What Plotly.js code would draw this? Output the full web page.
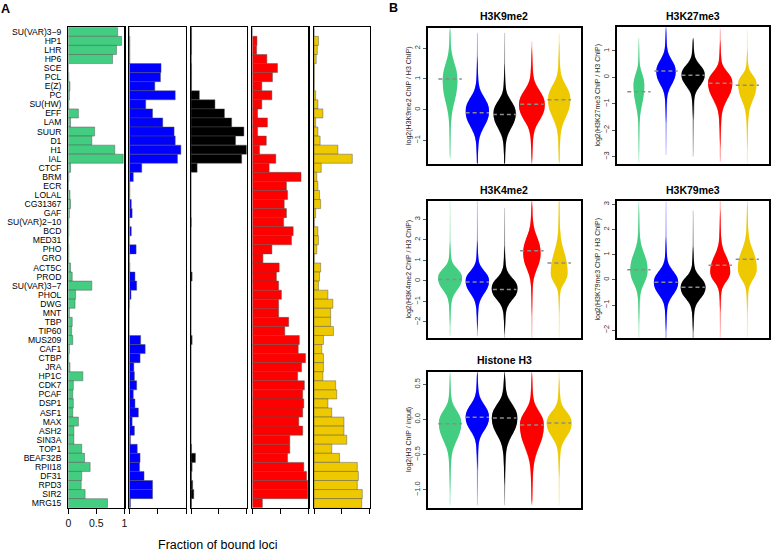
<!DOCTYPE html>
<html><head><meta charset="utf-8">
<script src="https://cdn.plot.ly/plotly-3.0.1.min.js"></script>
<style>html,body{margin:0;padding:0;background:#fff}#chart{width:771px;height:555px}</style>
</head><body><div id="chart"></div>
<script>
// ---------------- DATA ----------------
const categories = ["SU(VAR)3\u22129","HP1","LHR","HP6","SCE","PCL","E(Z)","PC","SU(HW)","EFF","LAM","SUUR","D1","H1","IAL","CTCF","BRM","ECR","LOLAL","CG31367","GAF","SU(VAR)2\u221210","BCD","MED31","PHO","GRO","ACT5C","PROD","SU(VAR)3\u22127","PHOL","DWG","MNT","TBP","TIP60","MUS209","CAF1","CTBP","JRA","HP1C","CDK7","PCAF","DSP1","ASF1","MAX","ASH2","SIN3A","TOP1","BEAF32B","RPII18","DF31","RPD3","SIR2","MRG15"];
const greenFrac = [0.88,0.95,0.86,0.79,0.0,0.01,0.03,0.02,0.01,0.18,0.04,0.47,0.42,0.83,0.98,0.04,0.01,0.005,0.03,0.04,0.02,0.01,0.01,0.005,0.01,0.01,0.04,0.07,0.42,0.13,0.12,0.02,0.07,0.06,0.08,0.02,0.01,0.03,0.26,0.09,0.08,0.09,0.08,0.18,0.10,0.10,0.24,0.29,0.39,0.24,0.23,0.30,0.70];
const blueFrac = [0,0.01,0.01,0.01,0.56,0.55,0.45,0.81,0.29,0.41,0.59,0.79,0.81,0.91,0.85,0.22,0.07,0.01,0.01,0.035,0.05,0.005,0.035,0.005,0.12,0.005,0.01,0.10,0.13,0.03,0.005,0,0,0,0.20,0.28,0.19,0.08,0.09,0.13,0.07,0.10,0.16,0.05,0.09,0.02,0.14,0.19,0.18,0.26,0.41,0.41,0.02];
const blackFrac = [0.01,0.01,0.01,0.005,0.01,0.01,0.01,0.15,0.43,0.60,0.73,0.95,0.80,1.0,0.91,0.11,0,0,0,0,0,0.005,0,0,0,0,0,0.02,0,0,0,0,0,0,0.02,0,0,0,0,0,0,0,0,0,0,0,0.01,0.08,0.02,0.01,0.03,0.05,0.01];
const redFrac = [0,0.083,0.077,0.26,0.45,0.36,0.17,0.35,0.17,0.095,0.27,0.095,0.25,0.13,0.42,0.30,0.87,0.61,0.63,0.57,0.61,0.56,0.73,0.70,0.35,0.19,0.48,0.43,0.47,0.52,0.47,0.47,0.65,0.58,0.84,0.82,0.95,0.88,0.81,0.93,0.90,0.92,0.90,0.83,0.90,0.67,0.67,0.63,0.92,0.97,0.99,0.99,0.18];
const yellowFrac = [0,0.08,0.06,0.04,0.005,0.005,0.005,0.03,0.07,0.16,0.03,0.07,0.11,0.43,0.69,0.13,0.05,0.07,0.10,0.12,0.03,0.005,0.07,0.08,0.05,0.005,0.12,0.10,0.08,0.25,0.34,0.30,0.30,0.35,0.17,0.14,0.17,0.17,0.16,0.39,0.41,0.25,0.32,0.54,0.54,0.59,0.32,0.46,0.78,0.80,0.78,0.87,0.86];
const xTickVals = [0,0.5,1];
const xTickText = ["0","0.5","1"];

const chromatinClasses = ["GREEN","BLUE","BLACK","RED","YELLOW"];
const panelTitles = ["H3K9me2","H3K27me3","H3K4me2","H3K79me3","Histone H3"];
const panelYTitles = ["log2(H3K9me2 ChIP / H3 ChIP)","log2(H3K27me3 ChIP / H3 ChIP)","log2(H3K4me2 ChIP / H3 ChIP)","log2(H3K79me3 ChIP / H3 ChIP)","log2(H3 ChIP / input)"];
// per panel, per chromatin class (GREEN, BLUE, BLACK, RED, YELLOW)
const medianVals = [[1.0,-0.1,-0.16,0.18,0.32],[-0.54,0.24,0.08,-0.22,-0.3],[0.07,-0.05,-0.42,1.47,0.88],[0.4,-0.1,-0.3,0.58,0.82],[-0.06,0.03,0.02,-0.08,-0.05]];
const modeVals = [[0.95,-0.05,-0.12,0.16,0.33],[-0.3,0.22,0.1,-0.2,-0.25],[0.15,0.0,-0.37,1.35,0.39],[0.38,-0.1,-0.3,0.32,0.45],[-0.05,0.03,0.02,-0.08,-0.05]];
const densityWidth = [[0.27,0.43,0.41,0.475,0.41],[0.2,0.36,0.43,0.45,0.34],[0.44,0.43,0.475,0.32,0.31],[0.32,0.45,0.46,0.37,0.35],[0.41,0.43,0.47,0.44,0.46]];
const spreadUp = [[0.63,0.5,0.45,0.52,0.52],[0.5,0.5,0.42,0.45,0.38],[0.5,0.55,0.58,0.9,1.15],[0.75,0.5,0.45,0.7,0.8],[0.2,0.2,0.22,0.22,0.18]];
const spreadDown = [[0.79,0.56,0.54,0.57,0.65],[0.8,0.55,0.48,0.7,0.7],[0.66,0.68,0.62,0.85,0.55],[0.6,0.55,0.5,0.45,0.5],[0.28,0.21,0.27,0.35,0.22]];
const tailLow = [[-1.6,-1.77,-1.77,-1.77,-1.77],[-3.25,-2.94,-3.0,-3.2,-3.28],[-2.7,-2.7,-2.78,-2.78,-2.78],[-2.31,-2.31,-2.31,-2.31,-2.31],[-1.22,-1.22,-1.22,-1.22,-1.22]];
const tailHigh = [[2.67,2.5,2.5,2.23,2.5],[1.5,1.92,1.5,1.85,1.8],[3.91,3.91,3.56,3.91,3.91],[3.14,3.1,2.75,3.14,3.14],[0.68,0.68,0.68,0.68,0.68]];
// normalised density outline (offset in spreads -> relative width)
const coreT = [0,0.25,0.5,0.75,1,1.25,1.5,1.75,2,2.5,3,3.6];
const coreW = [1,0.97,0.87,0.7,0.5,0.32,0.2,0.13,0.09,0.055,0.035,0];
const fadeT = [0,0.25,0.5,0.75,1,1.25,1.5,1.75,2,2.5,3,4,5,6,7.5];
const fadeW = [1,0.97,0.87,0.7,0.5,0.32,0.2,0.13,0.09,0.06,0.045,0.03,0.02,0.012,0];

// ---------------- STYLE ----------------
const FONT = "Liberation Sans, Arial, Helvetica, sans-serif";
const classColors = ["#43CD80","#0000FF","#000000","#FF0000","#EEC900"];
const classRGB = [[67,205,128],[0,0,255],[0,0,0],[255,0,0],[238,201,0]];
const W = 771, H = 555;
const fx = p => p / W, fy = p => 1 - p / H;

const traces = [];
const layout = {
  width: W, height: H, margin: {l:0,r:0,t:0,b:0}, showlegend: false,
  bargap: 0, paper_bgcolor: "#fff", plot_bgcolor: "rgba(0,0,0,0)",
  font: {family: FONT, color: "#000"}, hovermode: false, annotations: []
};

// ----- Panel A: bars -----
const barVals = [greenFrac, blueFrac, blackFrac, redFrac, yellowFrac];
const barDom = [[68.3,124.3],[129.3,186],[191,246.7],[252.3,308.3],[314,369.5]];
barVals.forEach((vals, i) => {
  const k = i + 1;
  const xa = k === 1 ? "x" : "x" + k, ya = k === 1 ? "y" : "y" + k;
  traces.push({type:"bar", orientation:"h", x: vals, y: categories, xaxis: xa, yaxis: ya,
    width: 1, marker: {color: classColors[i], line: {color: "rgba(80,80,80,0.75)", width: 0.6}}, hoverinfo: "skip"});
  layout["xaxis" + (k === 1 ? "" : k)] = {
    domain: [fx(barDom[i][0]), fx(barDom[i][1])], range: [0, 1], anchor: ya,
    tickmode: "array", tickvals: xTickVals, ticktext: xTickText, showticklabels: k === 1,
    ticks: "outside", ticklen: 5, tickwidth: 1, tickcolor: "#000",
    showline: true, mirror: true, linecolor: "#000", linewidth: 1.2,
    showgrid: false, zeroline: false, tickfont: {size: 10.5, color: "#111"}, fixedrange: true
  };
  layout["yaxis" + (k === 1 ? "" : k)] = {
    domain: [fy(507.7), fy(27.3)], type: "category", categoryorder: "array", categoryarray: categories,
    range: [52.5, -0.5], anchor: xa, showline: true, mirror: true, linecolor: "#000", linewidth: 1.2,
    tickmode: "array", tickvals: categories, ticktext: categories,
    ticks: "", showticklabels: k === 1, tickfont: {size: 8.6, color: "#000"}, ticklabelstandoff: 4,
    showgrid: false, zeroline: false, fixedrange: true
  };
});
layout.annotations.push({text: "Fraction of bound loci", x: fx(218), y: fy(545), xref: "paper", yref: "paper",
  showarrow: false, xanchor: "center", yanchor: "middle", font: {size: 12.5, color: "#000"}});
layout.annotations.push({text: "<b>A</b>", x: fx(5), y: fy(9), xref: "paper", yref: "paper",
  showarrow: false, xanchor: "center", yanchor: "middle", font: {size: 12.5}});
layout.annotations.push({text: "<b>B</b>", x: fx(394), y: fy(8), xref: "paper", yref: "paper",
  showarrow: false, xanchor: "center", yanchor: "middle", font: {size: 12.5}});

// ----- Panel B: violins -----
const vDomX = [[427.7,581],[616.7,769],[427.7,581],[616.7,769],[427.7,581]];
const vDomY = [[27.7,164],[26.7,164],[200.7,338],[200.7,338],[371.7,508]];
const vRange = [[-1.77,2.67],[-3.28,1.92],[-2.78,3.91],[-2.31,3.14],[-1.26,0.68]];
const vTicks = [[-1,0,1,2],[-3,-2,-1,0,1],[-2,-1,0,1,2,3],[-2,-1,0,1,2,3],[-1,-0.5,0,0.5]];
const vTitleY = [16,16,190,190,360];

function side(peak, w, s, dir, limit, t, f) {
  const pts = [];
  for (let j = 0; j < t.length; j++) {
    const y = peak + dir * s * t[j];
    if ((dir > 0 && y >= limit) || (dir < 0 && y <= limit)) { pts.push([limit, 0]); return pts; }
    pts.push([y, w * f[j]]);
  }
  return pts;
}
function outline(c, peak, w, su, sd, lo, hi, t, f) {
  const up = side(peak, w, su, 1, hi, t, f), dn = side(peak, w, sd, -1, lo, t, f);
  const xs = [], ys = [];
  for (let j = dn.length - 1; j >= 0; j--) { xs.push(c + dn[j][1]); ys.push(dn[j][0]); }
  for (let j = 1; j < up.length; j++) { xs.push(c + up[j][1]); ys.push(up[j][0]); }
  for (let j = up.length - 2; j >= 0; j--) { xs.push(c - up[j][1]); ys.push(up[j][0]); }
  for (let j = 1; j < dn.length - 1; j++) { xs.push(c - dn[j][1]); ys.push(dn[j][0]); }
  return {xs, ys};
}

panelTitles.forEach((title, p) => {
  const k = p + 6;
  const xa = "x" + k, ya = "y" + k;
  for (let i = 0; i < chromatinClasses.length; i++) {
    const c = i + 1;
    const rgb = classRGB[i].join(",");
    const args = [c, modeVals[p][i], densityWidth[p][i], spreadUp[p][i], spreadDown[p][i], tailLow[p][i], tailHigh[p][i]];
    traces.push({type: "scatter", mode: "lines", x: [c, c], y: [tailLow[p][i], tailHigh[p][i]], xaxis: xa, yaxis: ya,
      line: {color: "rgba(" + rgb + ",0.2)", width: 1}, hoverinfo: "skip"});
    const o1 = outline(...args, fadeT, fadeW);
    traces.push({type: "scatter", mode: "lines", x: o1.xs, y: o1.ys, xaxis: xa, yaxis: ya, fill: "toself",
      fillcolor: "rgba(" + rgb + ",0.35)", line: {width: 0}, hoverinfo: "skip"});
    const o2 = outline(...args, coreT, coreW);
    traces.push({type: "scatter", mode: "lines", x: o2.xs, y: o2.ys, xaxis: xa, yaxis: ya, fill: "toself",
      fillcolor: "rgb(" + rgb + ")", line: {width: 0, shape: "spline", smoothing: 0.5}, hoverinfo: "skip"});
  }
  const mx = [], my = [];
  medianVals[p].forEach((m, i) => { mx.push(i + 1 - 0.43, i + 1 + 0.43, null); my.push(m, m, null); });
  traces.push({type: "scatter", mode: "lines", x: mx, y: my, xaxis: xa, yaxis: ya,
    line: {color: "#8c8c8c", width: 1.5, dash: "4px,3px"}, hoverinfo: "skip"});

  layout["xaxis" + k] = {domain: [fx(vDomX[p][0]), fx(vDomX[p][1])], range: [0.18, 5.8], anchor: ya,
    showticklabels: false, ticks: "", showline: true, mirror: true, linecolor: "#000", linewidth: 1.5,
    showgrid: false, zeroline: false, fixedrange: true};
  layout["yaxis" + k] = {domain: [fy(vDomY[p][1]), fy(vDomY[p][0])], range: vRange[p], anchor: xa,
    tickmode: "array", tickvals: vTicks[p], tickformat: p === 4 ? ".1f" : "d", tickangle: -90,
    ticks: "outside", ticklen: 3, tickwidth: 0.8, tickcolor: "#333",
    tickfont: {size: 7.5, color: "#333"}, showline: true, mirror: true, linecolor: "#000", linewidth: 1.5,
    showgrid: false, zeroline: false, fixedrange: true};
  layout.annotations.push({text: "<b>" + title + "</b>", x: fx((vDomX[p][0] + vDomX[p][1]) / 2), y: fy(vTitleY[p]),
    xref: "paper", yref: "paper", showarrow: false, xanchor: "center", yanchor: "middle", font: {size: 10.5}});
  layout.annotations.push({text: panelYTitles[p], x: fx(vDomX[p][0] - 18.5), y: fy((vDomY[p][0] + vDomY[p][1]) / 2),
    xref: "paper", yref: "paper", showarrow: false, textangle: -90, xanchor: "center", yanchor: "middle",
    font: {size: 7, color: "#222"}});
});

Plotly.newPlot("chart", traces, layout, {staticPlot: true, displayModeBar: false});
</script>
</body></html>
